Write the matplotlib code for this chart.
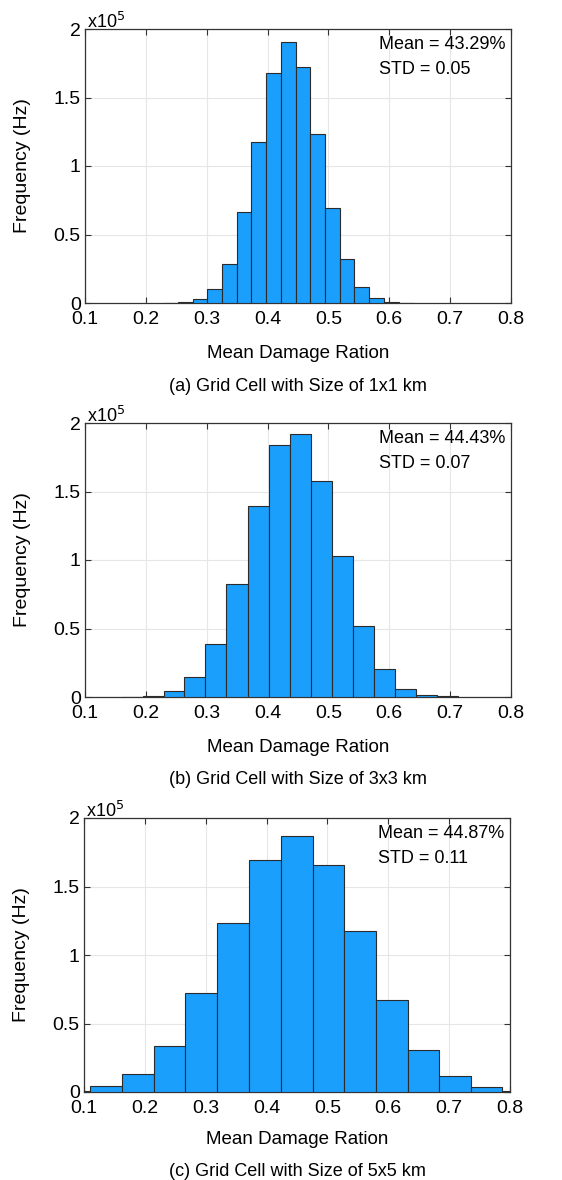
import numpy as np
import matplotlib.pyplot as plt

plt.rcParams['font.family'] = ['Liberation Sans', 'DejaVu Sans']

# bin edges and counts (x10^5)
edges_a = [0.2293, 0.2534, 0.2769, 0.3010, 0.3251, 0.3492, 0.3733, 0.3974, 0.4215,
           0.4459, 0.4700, 0.4941, 0.5185, 0.5426, 0.5667, 0.5908, 0.6152, 0.6395]
counts_a = [0.001, 0.007, 0.030, 0.100, 0.287, 0.667, 1.175, 1.676, 1.905,
            1.723, 1.234, 0.693, 0.324, 0.117, 0.036, 0.007, 0.002]

edges_b = [0.1603, 0.1948, 0.2290, 0.2632, 0.2977, 0.3325, 0.3673, 0.4018, 0.4363,
           0.4708, 0.5053, 0.5398, 0.5744, 0.6089, 0.6434, 0.6779, 0.7124]
counts_b = [0.001, 0.010, 0.041, 0.146, 0.385, 0.828, 1.391, 1.839, 1.922,
            1.579, 1.026, 0.521, 0.205, 0.061, 0.017, 0.005]

edges_c = [0.0583, 0.1104, 0.1625, 0.2146, 0.2666, 0.3191, 0.3716, 0.4234, 0.4755,
           0.5276, 0.5796, 0.6317, 0.6838, 0.7359, 0.7876, 0.8395]
counts_c = [0.007, 0.041, 0.129, 0.337, 0.724, 1.232, 1.693, 1.871, 1.659,
            1.178, 0.671, 0.307, 0.115, 0.037, 0.007]

stats = [('Mean = 43.29%', 'STD = 0.05'),
         ('Mean = 44.43%', 'STD = 0.07'),
         ('Mean = 44.87%', 'STD = 0.11')]
captions = ['(a) Grid Cell with Size of 1x1 km',
            '(b) Grid Cell with Size of 3x3 km',
            '(c) Grid Cell with Size of 5x5 km']
multipliers = ['x10$^5$', 'x10$^5$', 'x10$^5$']

W, H = 562, 1180
fig = plt.figure(figsize=(W / 100, H / 100), dpi=100)

# axes boxes in pixels: left, top, right, bottom
boxes = [(85, 29, 511, 303), (85, 423, 511, 697), (84, 818, 510, 1092)]
xlab_y = [354, 748, 1139]
cap_y = [386, 779, 1171]

data = [(edges_a, counts_a), (edges_b, counts_b), (edges_c, counts_c)]

for i, (edges, counts) in enumerate(data):
    l, t, r, b = boxes[i]
    ax = fig.add_axes([l / W, 1 - b / H, (r - l) / W, (b - t) / H])
    ax.hist(edges[:-1], bins=edges, weights=counts, color='#1a9ffd',
            edgecolor='#2b2b2b', linewidth=0.8, zorder=3)
    ax.set_xlim(0.1, 0.8)
    ax.set_ylim(0, 2)
    ax.set_xticks(np.arange(0.1, 0.81, 0.1))
    ax.set_xticklabels(['0.1', '0.2', '0.3', '0.4', '0.5', '0.6', '0.7', '0.8'])
    ax.set_yticks([0, 0.5, 1, 1.5, 2])
    ax.set_yticklabels(['0', '0.5', '1', '1.5', '2'])
    ax.grid(True, color='#e6e6e6', linewidth=0.8, zorder=0)
    ax.tick_params(direction='in', top=True, right=True, length=4,
                   labelsize=14, color='#333333')
    ax.tick_params(axis='x', pad=6)
    ax.tick_params(axis='y', pad=3)
    for s in ax.spines.values():
        s.set_color('#333333')
        s.set_linewidth(0.9)
    ax.set_ylabel('Frequency (Hz)', fontsize=14)
    ax.yaxis.set_label_coords(-54 / (r - l), 0.5)
    ax.text(0.005, 0.99, multipliers[i], transform=ax.transAxes, fontsize=13,
            ha='left', va='bottom')
    ax.text(0.69, 0.975, stats[i][0], transform=ax.transAxes, fontsize=13,
            ha='left', va='top')
    ax.text(0.69, 0.885, stats[i][1], transform=ax.transAxes, fontsize=13,
            ha='left', va='top')
    fig.text((l + r) / 2 / W, 1 - xlab_y[i] / H, 'Mean Damage Ration',
             fontsize=13.5, ha='center', va='center')
    fig.text((l + r) / 2 / W, 1 - cap_y[i] / H, captions[i],
             fontsize=13, ha='center', va='center')

fig.savefig('out.png', dpi=100)
